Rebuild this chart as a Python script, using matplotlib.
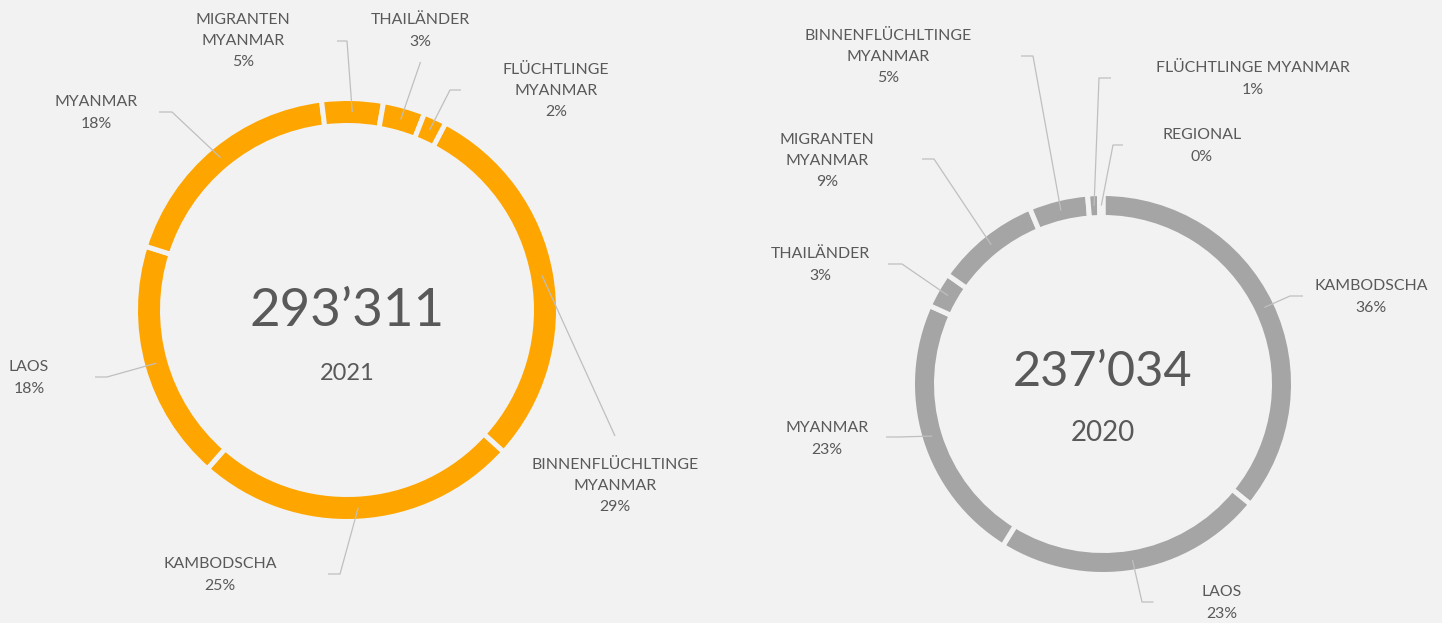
import matplotlib
matplotlib.use("Agg")
import numpy as np
import matplotlib.pyplot as plt

W, H = 1442, 623
BG = "#f2f2f2"
TXT = "#595959"
LEAD = "#bfbfbf"

plt.rcParams["font.family"] = ["Lato", "DejaVu Sans"]

# 2021 (left ring), clockwise from the first slice
left_names = ["BINNENFLÜCHLTINGE\nMYANMAR", "KAMBODSCHA", "LAOS", "MYANMAR",
              "MIGRANTEN\nMYANMAR", "THAILÄNDER", "FLÜCHTLINGE\nMYANMAR"]
left_values = [29.0, 24.75, 18.4, 18.2, 4.7, 3.2, 1.75]
left_total = 293311
left_year = "2021"

# 2020 (right ring)
right_names = ["KAMBODSCHA", "LAOS", "MYANMAR", "THAILÄNDER", "MIGRANTEN\nMYANMAR",
               "BINNENFLÜCHLTINGE\nMYANMAR", "FLÜCHTLINGE MYANMAR", "REGIONAL"]
right_values = [36, 23, 23, 3, 9, 5, 1, 0.3]
right_total = 237034
right_year = "2020"

# layout in image pixels (y measured from the top)
left_layout = dict(
    center=(347, 310), radius=209, width=22, start=27.8, color="#ffa500",
    num_y=311, num_size=38, year_y=373, year_size=17,
    text_pos=[(615, 486), (220, 575), (29, 378), (96, 113), (243, 41), (420, 31), (556, 91)],
    elbows=[(615, 615, 436), (328, 340, 574), (95, 107, 377), (159, 172, 112),
            (337, 347, 41), (420.5, 420.5, 62), (461, 450, 90)],
)
right_layout = dict(
    center=(1103, 384), radius=188, width=19, start=0.0, color="#a5a5a5",
    num_y=372, num_size=35, year_y=433, year_size=20,
    text_pos=[(1371, 297), (1222, 603), (827, 439), (820, 265), (827, 161),
              (888, 57), (1253, 79), (1202, 146)],
    elbows=[(1303, 1290, 296), (1153.5, 1142, 602), (886, 898.5, 437), (888, 902, 264),
            (922, 934, 159), (1021, 1033, 56), (1111, 1099, 78), (1123, 1113, 145)],
)

fig = plt.figure(figsize=(W / 100, H / 100), dpi=100, facecolor=BG)
ax = fig.add_axes([0, 0, 1, 1])
ax.set_facecolor(BG)

GAP = 5  # px between slices
PX = 0.72  # points per pixel at 100 dpi


def donut(names, values, total, year, lay):
    cx, cy = lay["center"][0], H - lay["center"][1]
    wedges, _ = ax.pie(
        values, center=(cx, cy), radius=lay["radius"] + GAP / 2,
        startangle=90 - lay["start"], counterclock=False,
        colors=[lay["color"]] * len(values),
        wedgeprops=dict(width=lay["width"] + GAP, edgecolor=BG, linewidth=GAP * PX),
    )
    pct = np.array(values) / sum(values) * 100
    r_mid = lay["radius"] - lay["width"] / 2
    for w, name, p, (tx, ty), (x0, x1, ey) in zip(wedges, names, pct, lay["text_pos"], lay["elbows"]):
        a = np.deg2rad((w.theta1 + w.theta2) / 2)
        px, py = cx + r_mid * np.cos(a), cy + r_mid * np.sin(a)
        ax.plot([x0, x1, px], [H - ey, H - ey, py], color=LEAD, lw=0.9, solid_capstyle="butt")
        ax.text(tx, H - ty, f"{name}\n{p:.0f}%", ha="center", va="center",
                multialignment="center", color=TXT, fontsize=11.4, linespacing=1.66)
    ax.text(cx, H - lay["num_y"], f"{total:,}".replace(",", "’"), ha="center", va="center",
            color=TXT, fontsize=lay["num_size"])
    ax.text(cx, H - lay["year_y"], year, ha="center", va="center",
            color=TXT, fontsize=lay["year_size"])


donut(left_names, left_values, left_total, left_year, left_layout)
donut(right_names, right_values, right_total, right_year, right_layout)

ax.set_xlim(0, W)
ax.set_ylim(0, H)
ax.set_aspect("auto")
ax.axis("off")
fig.savefig("out.png", dpi=100, facecolor=BG)
